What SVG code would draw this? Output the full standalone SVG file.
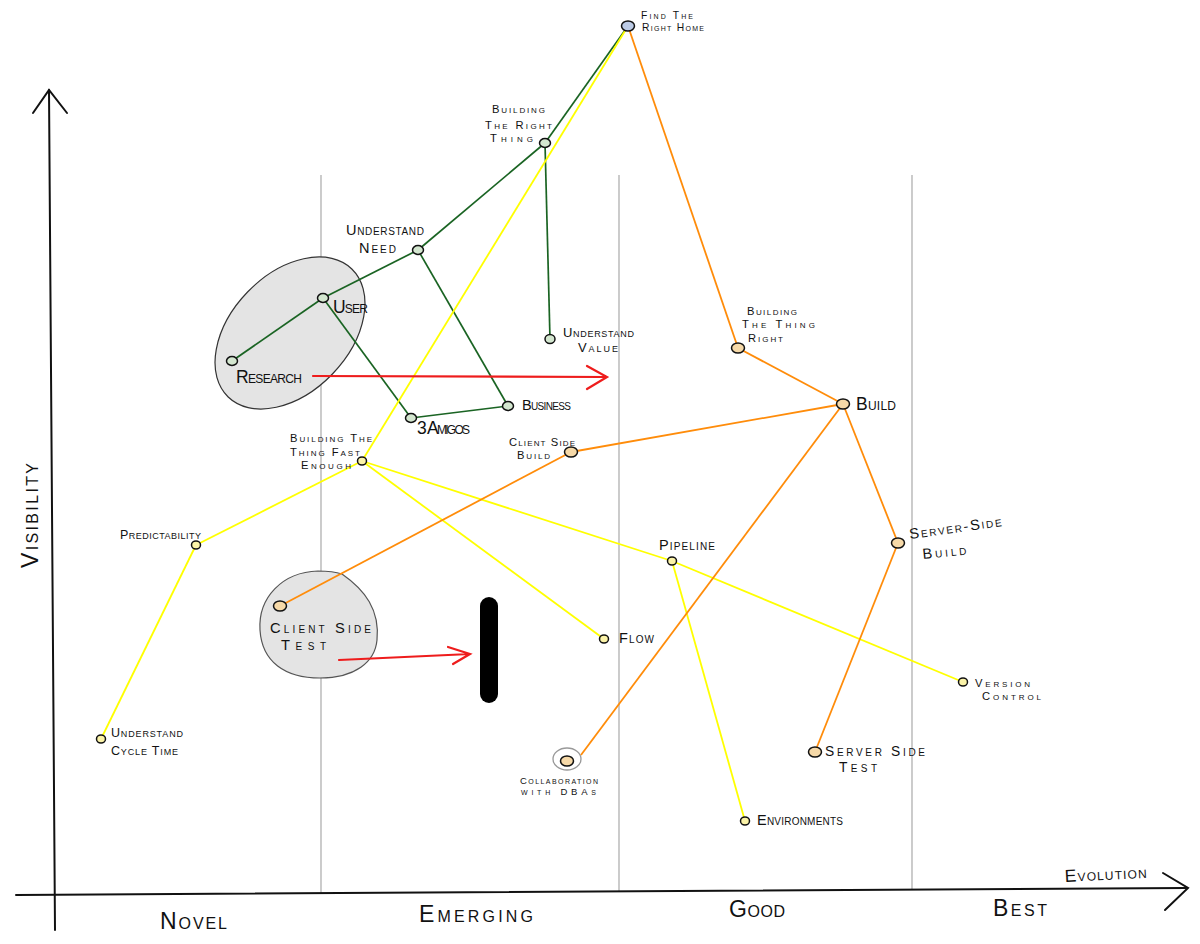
<svg xmlns="http://www.w3.org/2000/svg" width="1200" height="944" viewBox="0 0 1200 944">
<style>
text{font-family:"Liberation Sans",Arial,sans-serif;font-variant:small-caps;fill:#111;}
.s{font-size:12.5px}
.m{font-size:14.5px}
.l{font-size:17.5px}
.xl{font-size:23px}
.t10{font-size:10.3px}
.t11{font-size:11.2px}
.t13{font-size:13px}
.t14{font-size:13.8px}
.t15{font-size:14.7px}
.c9{font-size:9.5px}
.grid{stroke:#b0b0b0;stroke-width:1.3;fill:none}
.axis{stroke:#111;stroke-width:2;fill:none;stroke-linecap:round}
.g{stroke:#1a6423;stroke-width:1.7;fill:none}
.y{stroke:#ffff00;stroke-width:1.8;fill:none}
.o{stroke:#ff8c0a;stroke-width:1.8;fill:none}
.red{stroke:#ee1c1c;stroke-width:2.2;fill:none;stroke-linecap:round}
.ng{fill:#d3e6cf;stroke:#111;stroke-width:1.5}
.ny{fill:#fbf3a8;stroke:#111;stroke-width:1.5}
.no{fill:#f6d9a8;stroke:#111;stroke-width:1.5}
.nb{fill:#bccbe6;stroke:#111;stroke-width:1.5}
</style>

<g id="axes">
<line class="grid" x1="321" y1="175" x2="321" y2="893"/>
<line class="grid" x1="619" y1="175" x2="619" y2="892"/>
<line class="grid" x1="912" y1="175" x2="912" y2="890"/>
<path class="axis" d="M49,90 L55,930"/>
<path class="axis" d="M33,113 L49,90 L67,113"/>
<path class="axis" d="M16,895 L1186,888"/>
<path class="axis" d="M1163,873 L1188,888 L1165,910"/>
<text class="xl" x="160" y="929" textLength="67">Novel</text>
<text class="xl" x="419" y="922" textLength="114">Emerging</text>
<text class="xl" x="729" y="917" textLength="56">Good</text>
<text class="xl" x="993" y="916" textLength="54">Best</text>
<text class="l" x="1065" y="882" textLength="82" transform="rotate(-3 1065 882)">Evolution</text>
<text class="xl" x="0" y="0" textLength="105" transform="translate(38 568) rotate(-90)">Visibility</text>
</g>

<g id="annotations">
<ellipse cx="290" cy="333" rx="89" ry="59" transform="rotate(-46 290 333)" fill="#e4e4e4" stroke="#333" stroke-width="1.2"/>
<path d="M342,574 C365,590 380,610 377,640 C375,662 355,678 320,678 C285,678 262,662 260,630 C258,598 282,572 318,571 C330,571 336,572 342,574 Z" fill="#e4e4e4" stroke="#555" stroke-width="1.2"/>
<ellipse cx="567" cy="759" rx="14" ry="11" fill="none" stroke="#999" stroke-width="1.3"/>
<rect x="480" y="597" width="18" height="106" rx="9" fill="#000"/>
</g>

<g id="connectors">
<line class="g" x1="628" y1="26" x2="545" y2="143"/>
<line class="g" x1="545" y1="143" x2="418" y2="250"/>
<line class="g" x1="545" y1="143" x2="550" y2="339"/>
<line class="g" x1="418" y1="250" x2="323" y2="298"/>
<line class="g" x1="418" y1="250" x2="508" y2="406"/>
<line class="g" x1="323" y1="298" x2="232" y2="361"/>
<line class="g" x1="323" y1="298" x2="411" y2="418"/>
<line class="g" x1="411" y1="418" x2="508" y2="406"/>
<line class="y" x1="628" y1="26" x2="362" y2="461"/>
<line class="y" x1="362" y1="461" x2="196" y2="545"/>
<line class="y" x1="196" y1="545" x2="101" y2="739"/>
<line class="y" x1="362" y1="461" x2="604" y2="639"/>
<line class="y" x1="362" y1="461" x2="672" y2="561"/>
<line class="y" x1="672" y1="561" x2="963" y2="682"/>
<line class="y" x1="672" y1="561" x2="745" y2="821"/>
<line class="o" x1="628" y1="26" x2="738" y2="348"/>
<line class="o" x1="738" y1="348" x2="843" y2="404"/>
<line class="o" x1="843" y1="404" x2="571" y2="452"/>
<line class="o" x1="571" y1="452" x2="280" y2="606"/>
<line class="o" x1="843" y1="404" x2="898" y2="543"/>
<line class="o" x1="843" y1="404" x2="581" y2="755"/>
<line class="o" x1="898" y1="543" x2="815" y2="752"/>
<path class="red" d="M313,376 L607,377 M587,366 L607,377 L587,389"/>
<path class="red" d="M339,660 L470,654 M448,647 L470,654 L453,664"/>
</g>

<g id="find-the-right-home"><ellipse class="nb" cx="628" cy="26" rx="6.5" ry="5"/>
<text class="t10" x="641" y="19" textLength="52">Find The</text>
<text class="t10" x="642" y="31" textLength="62">Right Home</text></g>

<g id="building-the-right-thing"><ellipse class="ng" cx="545" cy="143" rx="5.5" ry="4.5"/>
<text class="t11" x="492" y="113" textLength="53">Building</text>
<text class="t11" x="485" y="129" textLength="67">The Right</text>
<text class="t11" x="490" y="142" textLength="43">Thing</text></g>

<g id="understand-need"><ellipse class="ng" cx="418" cy="250" rx="5.5" ry="4.5"/>
<text class="m" x="346" y="235" textLength="78">Understand</text>
<text class="m" x="359" y="253" textLength="37">Need</text></g>

<g id="user"><ellipse class="ng" cx="323" cy="298" rx="5.5" ry="4.5"/>
<text class="l" x="333" y="313" textLength="35">User</text></g>

<g id="research"><ellipse class="ng" cx="232" cy="361" rx="5.5" ry="4.5"/>
<text class="l" x="236" y="383" textLength="66">Research</text></g>

<g id="understand-value"><ellipse class="ng" cx="550" cy="339" rx="5" ry="4.5"/>
<text class="t13" x="563" y="337" textLength="71">Understand</text>
<text class="t13" x="578" y="352" textLength="40">Value</text></g>

<g id="business"><ellipse class="ng" cx="508" cy="406" rx="5.5" ry="4.5"/>
<text class="m" x="522" y="410" textLength="49">Business</text></g>

<g id="three-amigos"><ellipse class="ng" cx="411" cy="418" rx="5.5" ry="4.5"/>
<text class="l" x="417" y="434" textLength="53">3 Amigos</text></g>

<g id="building-the-thing-fast-enough"><ellipse class="ny" cx="362" cy="461" rx="4.5" ry="4"/>
<text class="t11" x="290" y="442" textLength="82">Building The</text>
<text class="t11" x="290" y="456" textLength="70">Thing Fast</text>
<text class="t11" x="301" y="469" textLength="50">Enough</text></g>

<g id="predictability"><ellipse class="ny" cx="196" cy="545" rx="4.5" ry="4"/>
<text class="s" x="120" y="539" textLength="81">Predictability</text></g>

<g id="understand-cycle-time"><ellipse class="ny" cx="101" cy="739" rx="4.5" ry="4"/>
<text class="s" x="111" y="737" textLength="72">Understand</text>
<text class="s" x="111" y="755" textLength="67">Cycle Time</text></g>

<g id="flow"><ellipse class="ny" cx="604" cy="639" rx="4.5" ry="4"/>
<text class="m" x="619" y="643" textLength="35">Flow</text></g>

<g id="pipeline"><ellipse class="ny" cx="672" cy="561" rx="4.5" ry="4"/>
<text class="m" x="659" y="550" textLength="56">Pipeline</text></g>

<g id="version-control"><ellipse class="ny" cx="963" cy="682" rx="4.5" ry="4"/>
<text class="t11" x="975" y="687" textLength="55">Version</text>
<text class="t11" x="982" y="700" textLength="59">Control</text></g>

<g id="environments"><ellipse class="ny" cx="745" cy="821" rx="4.5" ry="4"/>
<text class="m" x="757" y="825" textLength="86">Environments</text></g>

<g id="client-side-build"><ellipse class="no" cx="571" cy="452" rx="6.5" ry="5"/>
<text class="t11" x="509" y="446" textLength="66">Client Side</text>
<text class="t11" x="517" y="459" textLength="33">Build</text></g>

<g id="client-side-test"><ellipse class="no" cx="280" cy="606" rx="6.5" ry="5"/>
<text class="t15" x="270" y="633" textLength="101">Client Side</text>
<text class="t15" x="281" y="650" textLength="45">Test</text></g>

<g id="building-the-thing-right"><ellipse class="no" cx="738" cy="348" rx="6.5" ry="5"/>
<text class="t11" x="747" y="315" textLength="50">Building</text>
<text class="t11" x="742" y="328" textLength="73">The Thing</text>
<text class="t11" x="748" y="342" textLength="35">Right</text></g>

<g id="build"><ellipse class="no" cx="843" cy="404" rx="6.5" ry="5"/>
<text class="l" x="856" y="410" textLength="40">Build</text></g>

<g id="server-side-build"><ellipse class="no" cx="898" cy="543" rx="6.5" ry="5"/>
<text class="t15" x="910" y="539" textLength="93" transform="rotate(-8 910 539)">Server-Side</text>
<text class="t15" x="923" y="559" textLength="44" transform="rotate(-6 923 559)">Build</text></g>

<g id="server-side-test"><ellipse class="no" cx="815" cy="752" rx="6.5" ry="5"/>
<text class="t14" x="825" y="756" textLength="100">Server Side</text>
<text class="t14" x="839" y="772" textLength="38">Test</text></g>

<g id="collaboration-with-dbas"><ellipse class="no" cx="567" cy="761" rx="6.5" ry="5"/>
<text class="c9" x="520" y="784" textLength="78">Collaboration</text>
<text class="c9" x="521" y="795" textLength="75">with DBAs</text></g>
</svg>
